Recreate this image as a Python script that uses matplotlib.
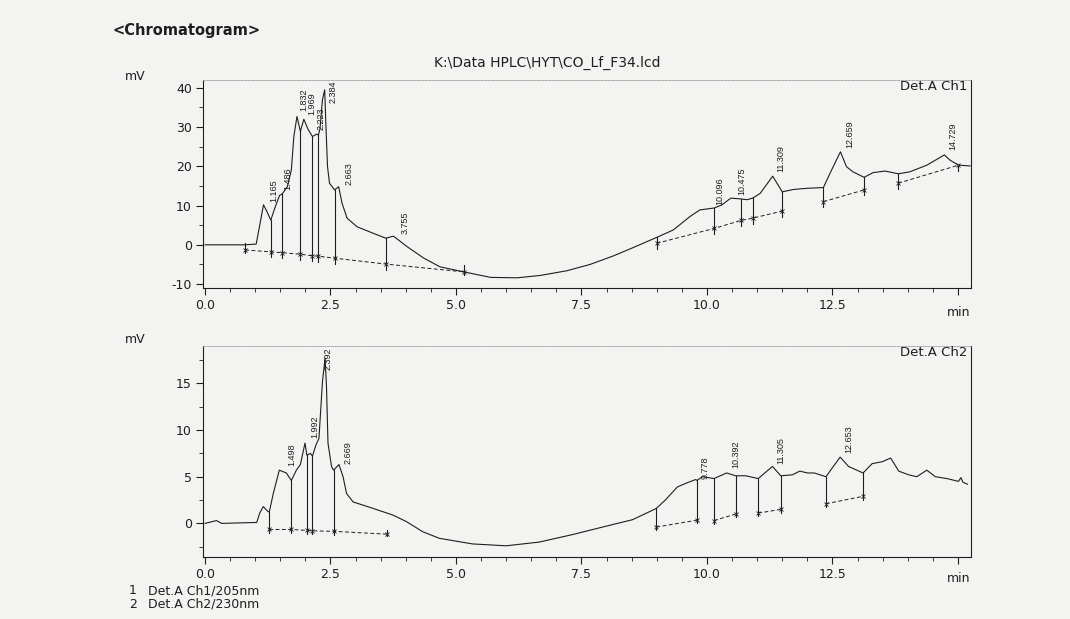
import numpy as np
import matplotlib.pyplot as plt
from matplotlib.ticker import MultipleLocator, FixedLocator

plt.rcParams['font.family'] = ['DejaVu Sans']
plt.rcParams['axes.unicode_minus'] = False

# ---------- Data ----------

# Det.A Ch1 (205 nm) signal trace, time in min, signal in mV
ch1_t = [0.0, 0.80, 1.02, 1.08, 1.165, 1.24, 1.31, 1.40, 1.486, 1.54, 1.64,
         1.72, 1.77, 1.832, 1.90, 1.969, 2.05, 2.14, 2.223, 2.26, 2.29, 2.34,
         2.384, 2.41, 2.44, 2.48, 2.58, 2.663, 2.73, 2.83, 3.03, 3.36, 3.60,
         3.755, 4.03, 4.36, 4.68, 5.16, 5.69, 6.22, 6.68, 7.21, 7.67, 8.14,
         8.53, 9.00, 9.33, 9.66, 9.86, 10.096, 10.15, 10.30, 10.475, 10.67,
         10.80, 10.91, 11.06, 11.309, 11.50, 11.72, 11.99, 12.32, 12.45,
         12.659, 12.78, 12.91, 13.13, 13.31, 13.55, 13.81, 14.04, 14.38,
         14.729, 14.84, 15.01, 15.24]
ch1_v = [0.0, 0.0, 0.2, 4.3, 10.2, 8.3, 6.3, 9.7, 12.6, 13.0, 14.8,
         19.1, 27.6, 32.7, 28.9, 32.0, 29.5, 27.6, 28.2, 28.0, 29.5, 37.0,
         39.5, 30.0, 20.0, 15.7, 14.0, 14.8, 10.6, 6.8, 4.6, 2.9, 1.7,
         2.2, -0.5, -3.4, -5.6, -6.9, -8.3, -8.4, -7.8, -6.6, -5.0, -2.8,
         -0.7, 1.9, 3.8, 7.2, 8.9, 9.3, 9.4, 10.2, 11.9, 11.7,
         11.5, 11.9, 13.1, 17.5, 13.5, 14.1, 14.4, 14.6, 18.2,
         23.7, 19.9, 18.6, 17.2, 18.4, 18.8, 18.1, 18.6, 20.3,
         22.9, 21.6, 20.3, 20.1]

# Ch1 integration baselines (time, mV) per segment
ch1_base = [
    ([0.80, 1.31, 1.54, 1.90, 2.14, 2.26, 2.58, 3.60, 5.16],
     [-1.3, -1.8, -2.0, -2.4, -2.8, -2.9, -3.4, -4.9, -6.9]),
    ([9.00, 10.15, 10.67, 10.91, 11.50], [0.4, 4.2, 6.2, 6.8, 8.6]),
    ([12.32, 13.13], [11.0, 14.0]),
    ([13.81, 15.01], [15.7, 20.3]),
]
ch1_drop = [1.31, 1.54, 1.90, 2.14, 2.26, 2.58, 3.60,
            9.00, 10.15, 10.67, 10.91, 11.50, 12.32, 13.13, 13.81, 15.01]
ch1_tick = [0.80, 5.16]

ch1_rt = ["1.165", "1.486", "1.832", "1.969", "2.223", "2.384", "2.663",
          "3.755", "10.096", "10.475", "11.309", "12.659", "14.729"]

# Det.A Ch2 (230 nm) signal trace
ch2_t = [0.0, 0.23, 0.33, 1.03, 1.09, 1.16, 1.25, 1.28, 1.36, 1.48, 1.62,
         1.72, 1.82, 1.90, 1.992, 2.03, 2.10, 2.14, 2.21, 2.27, 2.34, 2.392,
         2.42, 2.45, 2.52, 2.56, 2.669, 2.75, 2.82, 2.95, 3.35, 3.74, 4.01,
         4.34, 4.67, 5.33, 6.00, 6.66, 7.32, 7.99, 8.52, 8.99, 9.17, 9.41,
         9.58, 9.778, 9.80, 9.91, 10.14, 10.392, 10.57, 10.77, 11.02, 11.305,
         11.47, 11.70, 11.85, 12.00, 12.14, 12.37, 12.653, 12.82, 13.11,
         13.29, 13.49, 13.66, 13.82, 14.02, 14.18, 14.38, 14.55, 14.78,
         15.01, 15.06, 15.10, 15.19]
ch2_v = [0.0, 0.3, 0.0, 0.1, 1.1, 1.8, 1.3, 1.2, 3.2, 5.7, 5.4,
         4.6, 5.7, 6.3, 8.6, 7.3, 7.5, 7.2, 8.4, 9.1, 15.2, 17.7,
         14.7, 8.6, 6.1, 5.7, 6.3, 5.0, 3.2, 2.3, 1.6, 0.9, 0.2,
         -0.9, -1.6, -2.2, -2.4, -2.0, -1.2, -0.3, 0.4, 1.6, 2.5, 3.9,
         4.3, 4.7, 4.6, 5.0, 4.8, 5.4, 5.1, 5.1, 4.8, 6.1,
         5.1, 5.2, 5.6, 5.4, 5.4, 5.0, 7.1, 6.1, 5.4,
         6.4, 6.6, 7.0, 5.6, 5.2, 5.0, 5.7, 5.0, 4.8,
         4.5, 4.9, 4.4, 4.2]

ch2_base = [
    ([1.28, 1.72, 2.03, 2.14, 2.56, 3.62], [-0.65, -0.65, -0.75, -0.8, -0.85, -1.15]),
    ([8.99, 9.80], [-0.4, 0.35]),
    ([10.14, 10.57], [0.3, 1.0]),
    ([11.02, 11.47], [1.1, 1.5]),
    ([12.37, 13.11], [2.1, 2.9]),
]
ch2_drop = [1.28, 1.72, 2.03, 2.14, 2.56, 8.99, 9.80, 10.14, 10.57,
            11.02, 11.47, 12.37, 13.11]
ch2_tick = [3.62]

ch2_rt = ["1.498", "1.992", "2.392", "2.669", "9.778", "10.392", "11.305",
          "12.653"]

# ---------- Layout (label anchor positions, min / mV) ----------
ch1_lab_xy = [(1.38, 11.0), (1.64, 14.0), (1.97, 34.0), (2.12, 33.1),
              (2.31, 29.3), (2.56, 36.1), (2.87, 15.3), (3.98, 2.8),
              (10.26, 10.2), (10.69, 12.7), (11.48, 18.6), (12.84, 24.6),
              (14.90, 24.2)]
ch2_lab_xy = [(1.72, 6.1), (2.19, 9.1), (2.45, 16.4), (2.85, 6.4),
              (9.96, 4.8), (10.58, 5.9), (11.47, 6.4), (12.82, 7.5)]

W, H = 1070, 619
BG = '#f3f3f1'
INK = '#1e1e1e'
LAB_FONT = ['Liberation Sans', 'DejaVu Sans']


def px_axes(l, t, r, b):
    return [l / W, 1 - b / H, (r - l) / W, (b - t) / H]


def draw_channel(ax, t, v, bases, drops, ticks, rts, lab_xy, ext):
    ax.plot(t, v, color=INK, lw=0.8)
    for bt, bv in bases:
        ax.plot(bt, bv, color=INK, lw=0.7, ls=(0, (4, 2.5)))
        ax.plot(bt, bv, ls='none', marker='x', ms=3, mew=0.6, color=INK)
    bt_all = np.concatenate([b[0] for b in bases])
    bv_all = np.concatenate([b[1] for b in bases])
    order = np.argsort(bt_all)
    bt_all, bv_all = bt_all[order], bv_all[order]
    for d in drops:
        top = np.interp(d, t, v)
        bot = np.interp(d, bt_all, bv_all) - ext
        ax.plot([d, d], [bot, top], color=INK, lw=0.8)
    for d in ticks:
        b = np.interp(d, bt_all, bv_all)
        ax.plot([d, d], [b - ext * 0.6, b + ext * 1.2], color=INK, lw=0.8)
    for s, (lx, ly) in zip(rts, lab_xy):
        ax.text(lx, ly, s, rotation=90, ha='center', va='bottom',
                fontsize=6.5, color=INK, family=LAB_FONT)


def style_axes(ax, ymaj, ymin_step, ylim):
    ax.set_facecolor('none')
    ax.set_xlim(-0.04, 15.26)
    ax.set_ylim(*ylim)
    ax.xaxis.set_major_locator(FixedLocator([0, 2.5, 5, 7.5, 10, 12.5, 15]))
    ax.set_xticklabels(['0.0', '2.5', '5.0', '7.5', '10.0', '12.5', ''])
    ax.xaxis.set_minor_locator(MultipleLocator(0.5))
    ax.yaxis.set_major_locator(FixedLocator(ymaj))
    ax.yaxis.set_minor_locator(MultipleLocator(ymin_step))
    ax.tick_params(which='major', length=5, width=0.8, color=INK,
                   labelsize=9, labelcolor=INK, pad=3)
    ax.tick_params(which='minor', length=3, width=0.6, color=INK)
    for side in ['left', 'bottom', 'right']:
        ax.spines[side].set_color(INK)
        ax.spines[side].set_linewidth(0.8)
    ax.spines['top'].set_color('#a0a0a0')
    ax.spines['top'].set_linewidth(0.6)
    ax.spines['top'].set_linestyle((0, (3, 1.5)))


fig = plt.figure(figsize=(W / 100, H / 100), dpi=100, facecolor=BG)

ax1 = fig.add_axes(px_axes(203, 80, 971, 288))
draw_channel(ax1, ch1_t, ch1_v, ch1_base, ch1_drop, ch1_tick, ch1_rt,
             ch1_lab_xy, 1.4)
style_axes(ax1, [-10, 0, 10, 20, 30, 40], 5, (-11.0, 42.0))

ax2 = fig.add_axes(px_axes(203, 346, 971, 557))
draw_channel(ax2, ch2_t, ch2_v, ch2_base, ch2_drop, ch2_tick, ch2_rt,
             ch2_lab_xy, 0.35)
style_axes(ax2, [0, 5, 10, 15], 2.5, (-3.6, 19.0))

# ---------- Page texts ----------
fig.text(112 / W, 1 - 30 / H, '<Chromatogram>', fontsize=10.5, weight='bold',
         color=INK, ha='left', va='center')
fig.text(547 / W, 1 - 63 / H, r'K:\Data HPLC\HYT\CO_Lf_F34.lcd', fontsize=10,
         color=INK, ha='center', va='center')
for y in (76, 340):
    fig.text(125 / W, 1 - y / H, 'mV', fontsize=9, color=INK, ha='left', va='center')
fig.text(967 / W, 1 - 87 / H, 'Det.A Ch1', fontsize=9.5, color=INK,
         ha='right', va='center')
fig.text(967 / W, 1 - 352 / H, 'Det.A Ch2', fontsize=9.5, color=INK,
         ha='right', va='center')
for y in (312, 578):
    fig.text(970 / W, 1 - y / H, 'min', fontsize=9, color=INK, ha='right', va='center')
fig.text(129 / W, 1 - 591 / H, '1', fontsize=9, color=INK, ha='left', va='center')
fig.text(148 / W, 1 - 591 / H, 'Det.A Ch1/205nm', fontsize=9, color=INK,
         ha='left', va='center')
fig.text(129 / W, 1 - 604 / H, '2', fontsize=9, color=INK, ha='left', va='center')
fig.text(148 / W, 1 - 604 / H, 'Det.A Ch2/230nm', fontsize=9, color=INK,
         ha='left', va='center')

fig.savefig('out.png', dpi=100, facecolor=BG)
